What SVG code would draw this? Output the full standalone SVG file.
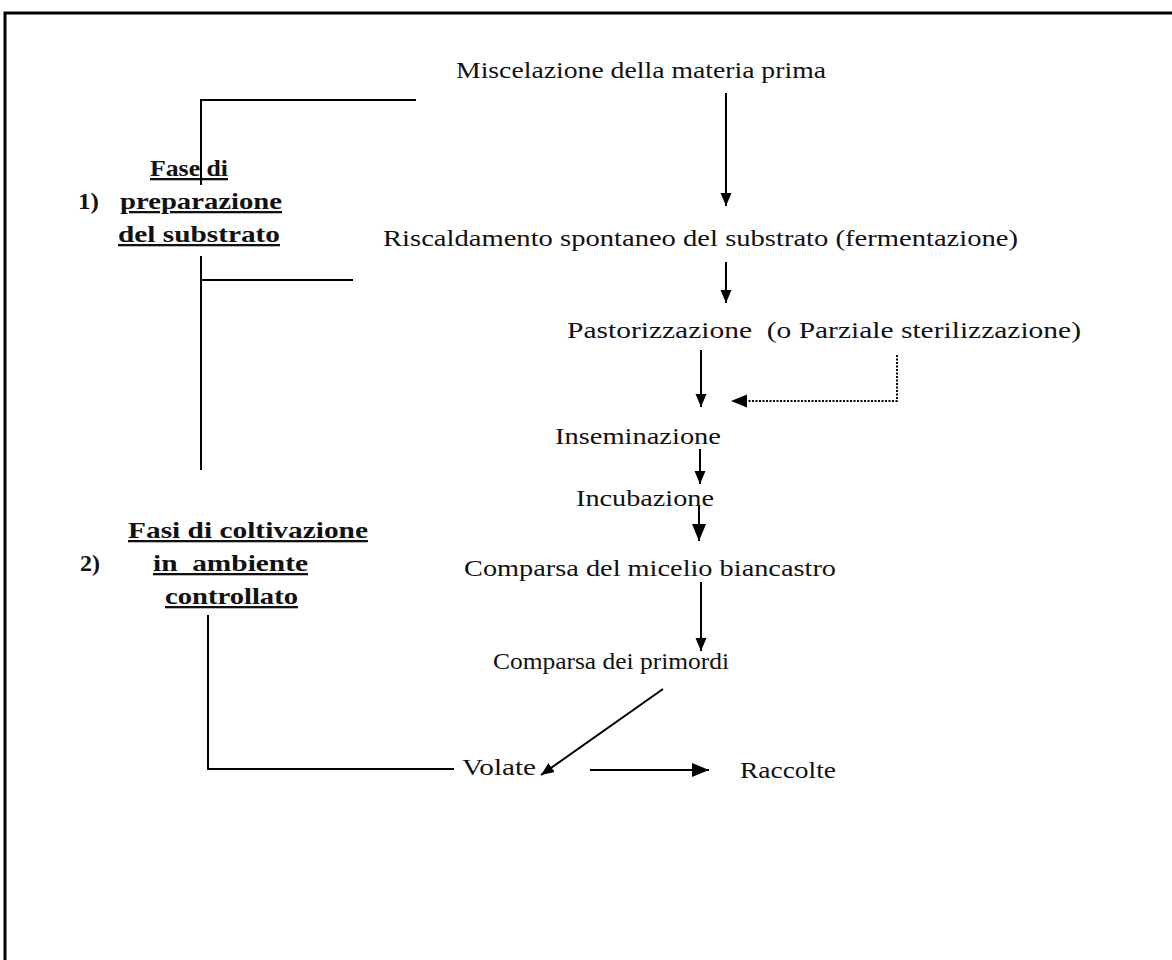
<svg xmlns="http://www.w3.org/2000/svg" width="1172" height="960" viewBox="0 0 1172 960">
<style>
.t{font-family:"Liberation Serif","DejaVu Serif",serif;font-size:23px;fill:#111}
.b{font-family:"Liberation Serif","DejaVu Serif",serif;font-size:23px;font-weight:bold;fill:#111}
.u{text-decoration:underline}
.ln{stroke:#000;stroke-width:2;fill:none}
.frame{stroke:#000;stroke-width:3;fill:none}
.dot{stroke:#000;stroke-width:2;fill:none;stroke-dasharray:2 1.5}
</style>
<defs>
<marker id="ah" markerUnits="userSpaceOnUse" markerWidth="14" markerHeight="14" viewBox="0 0 14 14" refX="13" refY="7" orient="auto">
<path d="M0,1.5 L13,7 L0,12.5 Z" fill="#000"/>
</marker>
<marker id="ahL" markerUnits="userSpaceOnUse" markerWidth="18" markerHeight="18" viewBox="0 0 18 18" refX="17" refY="9" orient="auto">
<path d="M0,2 L17,9 L0,16 Z" fill="#000"/>
</marker>
</defs>
<rect width="1172" height="960" fill="#fff"/>
<path class="frame" d="M5,962 L5,13 L1174,13"/>

<g id="n-miscelazione"><text class="t" x="456" y="78" textLength="370" lengthAdjust="spacingAndGlyphs">Miscelazione della materia prima</text></g>
<g id="n-riscaldamento"><text class="t" x="383" y="246" textLength="635" lengthAdjust="spacingAndGlyphs">Riscaldamento spontaneo del substrato (fermentazione)</text></g>
<g id="n-pastorizzazione"><text class="t" x="567" y="338" textLength="514" lengthAdjust="spacingAndGlyphs" xml:space="preserve">Pastorizzazione  (o Parziale sterilizzazione)</text></g>
<g id="n-inseminazione"><text class="t" x="555" y="444" textLength="166" lengthAdjust="spacingAndGlyphs">Inseminazione</text></g>
<g id="n-incubazione"><text class="t" x="576" y="506" textLength="138" lengthAdjust="spacingAndGlyphs">Incubazione</text></g>
<g id="n-micelio"><text class="t" x="464" y="576" textLength="372" lengthAdjust="spacingAndGlyphs">Comparsa del micelio biancastro</text></g>
<g id="n-primordi"><text class="t" x="493" y="669" textLength="236" lengthAdjust="spacingAndGlyphs">Comparsa dei primordi</text></g>
<g id="n-volate"><text class="t" x="462" y="775" textLength="74" lengthAdjust="spacingAndGlyphs">Volate</text></g>
<g id="n-raccolte"><text class="t" x="740" y="778" font-size="25" textLength="96" lengthAdjust="spacingAndGlyphs">Raccolte</text></g>

<g id="n-fase1">
<text class="b u" x="150" y="176" textLength="78" lengthAdjust="spacingAndGlyphs">Fase di</text>
<text class="b" x="78" y="209" textLength="21" lengthAdjust="spacingAndGlyphs">1)</text>
<text class="b u" x="120" y="209" textLength="162" lengthAdjust="spacingAndGlyphs">preparazione</text>
<text class="b u" x="118" y="242" textLength="162" lengthAdjust="spacingAndGlyphs">del substrato</text>
</g>
<g id="n-fase2">
<text class="b u" x="128" y="538" textLength="240" lengthAdjust="spacingAndGlyphs">Fasi di coltivazione</text>
<text class="b" x="80" y="571" textLength="20" lengthAdjust="spacingAndGlyphs">2)</text>
<text class="b u" x="153" y="571" textLength="155" lengthAdjust="spacingAndGlyphs" xml:space="preserve">in  ambiente</text>
<text class="b u" x="165" y="604" textLength="133" lengthAdjust="spacingAndGlyphs">controllato</text>
</g>

<g id="connectors">
<path class="ln" d="M726,93 L726,206" marker-end="url(#ah)"/>
<path class="ln" d="M726,262 L726,303" marker-end="url(#ah)"/>
<path class="ln" d="M701,350 L701,407" marker-end="url(#ah)"/>
<path class="dot" d="M897,355 L897,401 L746,401"/>
<path d="M731,401 L747,394.5 L747,407.5 Z" fill="#000"/>
<path class="ln" d="M700,449 L700,484" marker-end="url(#ah)"/>
<path class="ln" d="M699,506 L699,541" marker-end="url(#ahL)"/>
<path class="ln" d="M701,582 L701,651" marker-end="url(#ah)"/>
<path class="ln" d="M663,689 L541,775" marker-end="url(#ah)"/>
<path class="ln" d="M590,770 L709,770" marker-end="url(#ahL)"/>
<path class="ln" d="M416,100 L201,100 L201,185"/>
<path class="ln" d="M201,256 L201,470"/>
<path class="ln" d="M201,280 L353,280"/>
<path class="ln" d="M208,615 L208,769 L454,769"/>
</g>
</svg>
